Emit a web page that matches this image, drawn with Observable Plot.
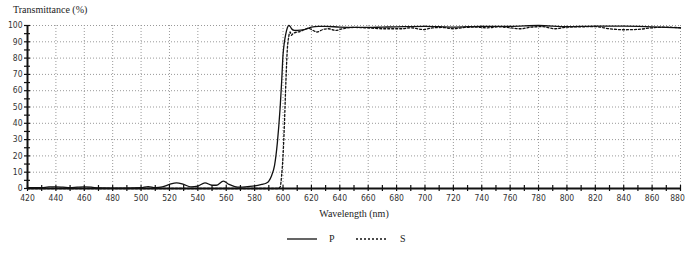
<!DOCTYPE html>
<html><head><meta charset="utf-8">
<script src="https://cdn.jsdelivr.net/npm/d3@7"></script>
<script src="https://cdn.jsdelivr.net/npm/@observablehq/plot@0.6"></script>
<style>
body{margin:0;background:#fff;width:685px;overflow:hidden}
#title{height:18px;font-family:"Liberation Serif","DejaVu Serif",serif;font-size:10px;color:#222;padding-left:13px;line-height:20px}
#legend{height:29px;position:relative;font-family:"Liberation Serif","DejaVu Serif",serif;font-size:10px;color:#222}
.lg{position:absolute;top:8px;display:flex;align-items:center;gap:0}
</style></head><body>
<div id="title">Transmittance (%)</div>
<div id="chart"></div>
<div id="legend"></div>
<script>
const wlP = [420,430,435,440,445,450,455,460,465,470,480,490,500,505,510,515,520,525,530,535,540,545,550,553,558,562,566,570,575,580,585,588,590,592,594,595,596,597,598,599,600,601,602,603,604,605,606,608,610,615,620,625,630,640,650,660,670,680,700,720,740,760,780,800,820,840,860,880];
const P   = [0.5,0.5,1,1,0.8,0.5,0.8,1,0.8,0.3,0.2,0.2,0.5,1.2,0.5,1,2.5,3.5,2.5,1,1.5,3.5,2,2,4.5,2.5,1.2,0.8,1.2,1.6,2.5,3.2,4.5,8,14,20,28,38,50,65,82,90,95,98.5,100,99.5,98,97,97,97.5,99,99.5,99.5,99,98.8,98.8,99,99.2,99.5,99,99.5,99.5,100,99.3,99.6,99.6,99.2,98.6];
const wlS = [420,500,560,590,596,598,599,600,601,602,603,604,605,606,607,610,612,615,618,620,624,628,632,637,642,650,660,671,683,690,699,705,712,720,728,735,744,752,760,767,775,782,792,800,810,820,830,840,850,860,870,880];
const S   = [0,0,0,0,0,1,8,20,40,65,85,93,96,94,95,96,96.3,97.5,98.3,97.5,96,97.5,98,97,98,98.8,98.5,98,98,98.6,97.5,98.5,98.8,98,98.8,99,98.6,99.2,98.6,98,99,99.3,98,99,99.2,99.3,98,97.4,97.6,98.6,99,98.6];
const xMajor = d3.range(420, 881, 20);
const xMinor = d3.range(420, 881, 10);
const yMajor = d3.range(0, 101, 10);
const yMinor = d3.range(0, 101, 5);

const dataP = wlP.map((w,i)=>({w, v:P[i]}));
const dataS = wlS.map((w,i)=>({w, v:S[i]}));
const tickFont = {fontSize: 8, fontFamily: "'Liberation Sans Narrow','DejaVu Sans Condensed','Liberation Sans',sans-serif"};
const noText = () => "";
const lastX = xMajor[xMajor.length - 1];

const chart = Plot.plot({
  width: 685, height: 207,
  marginLeft: 27, marginRight: 5, marginTop: 7, marginBottom: 37,
  style: {background: "#fff", color: "#333", overflow: "visible", ...tickFont},
  x: {domain: [420, 880]},
  y: {domain: [0, 100]},
  marks: [
    Plot.gridX(xMajor.slice(1), {stroke: "#999", strokeOpacity: 1, strokeDasharray: "1,2", strokeWidth: 1}),
    Plot.gridY(yMajor.slice(1), {stroke: "#999", strokeOpacity: 1, strokeDasharray: "1,2", strokeWidth: 1}),
    Plot.axisX({ticks: xMajor.slice(0, -1), tickSize: 0, tickPadding: 6, tickFormat: d=>String(d), label: "Wavelength (nm)", labelAnchor: "center", labelArrow: "none", labelOffset: 28, fontSize: 8.5}),
    Plot.axisX({ticks: [lastX], tickSize: 0, tickPadding: 6, tickFormat: d=>String(d), label: null, fontSize: 8.5, dx: -3}),
    Plot.axisX({ticks: xMinor, tickSize: 3, tickFormat: noText, label: null, stroke: "#111", strokeWidth: 1.2}),
    Plot.axisX({ticks: xMinor, tickSize: -3, tickFormat: noText, label: null, stroke: "#111", strokeWidth: 1.2}),
    Plot.axisY({ticks: yMajor, tickSize: 0, tickPadding: 5, tickFormat: d=>String(d), label: null, fontSize: 8.5}),
    Plot.axisY({ticks: yMinor, tickSize: 3, tickFormat: noText, label: null, stroke: "#111", strokeWidth: 1.2}),
    Plot.axisY({ticks: yMinor, tickSize: -3, tickFormat: noText, label: null, stroke: "#111", strokeWidth: 1.2}),
    Plot.ruleY([0], {stroke: "#111", strokeWidth: 2}),
    Plot.ruleX([420], {stroke: "#111", strokeWidth: 2}),
    Plot.line(dataS, {x: "w", y: "v", stroke: "#111", strokeWidth: 1.3, strokeDasharray: "2,2", curve: "monotone-x"}),
    Plot.line(dataP, {x: "w", y: "v", stroke: "#111", strokeWidth: 1.3, curve: "monotone-x"})
  ]
});
chart.querySelectorAll("text").forEach(t=>{ if(t.textContent.includes("Wavelength")) { t.style.fontFamily="'Liberation Serif','DejaVu Serif',serif"; t.style.fontSize="10px"; t.setAttribute("fill","#222"); }});
document.getElementById("chart").appendChild(chart);

const legend = document.getElementById("legend");
function item(label, left, width, dash){
  const d = document.createElement("div");
  d.className = "lg"; d.style.left = left + "px";
  d.innerHTML = `<svg width="${width}" height="6"><line x1="0" y1="3" x2="${width}" y2="3" stroke="#111" stroke-width="1.3" ${dash?`stroke-dasharray="${dash}"`:""}/></svg><span style="margin-left:12px">${label}</span>`;
  legend.appendChild(d);
}
item("P", 287, 30, null);
item("S", 356, 32, "2,2");
</script>
</body></html>
